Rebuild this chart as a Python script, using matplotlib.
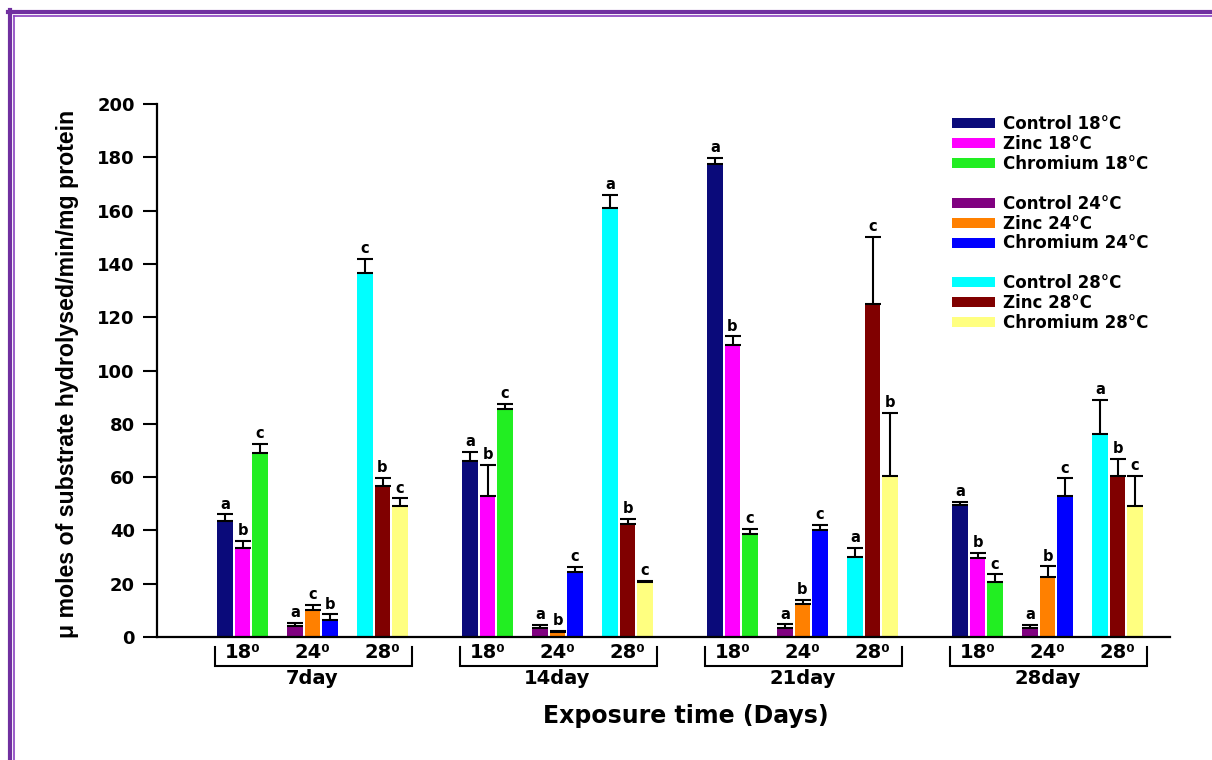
import matplotlib
matplotlib.use("Agg")
import matplotlib.pyplot as plt
import numpy as np
from matplotlib.patches import Patch
from matplotlib.lines import Line2D

# ---------------- data ----------------
days = ['7day', '14day', '21day', '28day']
temps = ['18\u2070', '24\u2070', '28\u2070']

series_labels = ['Control 18°C', 'Zinc 18°C', 'Chromium 18°C',
                 'Control 24°C', 'Zinc 24°C', 'Chromium 24°C',
                 'Control 28°C', 'Zinc 28°C', 'Chromium 28°C']
series_colors = ['#0a0a7a', '#ff00ff', '#22ee22',
                 '#800080', '#ff8000', '#0000ff',
                 '#00ffff', '#800000', '#ffff80']

control18 = [43.5, 66.0, 177.5, 49.5]
zinc18 = [33.5, 53.0, 109.5, 29.5]
chrom18 = [69.0, 85.5, 38.5, 20.5]
control24 = [4.0, 3.5, 3.5, 3.5]
zinc24 = [10.0, 1.8, 12.5, 22.5]
chrom24 = [6.5, 24.5, 40.0, 53.0]
control28 = [136.5, 161.0, 30.0, 76.0]
zinc28 = [56.5, 42.5, 125.0, 60.5]
chrom28 = [49.0, 20.5, 60.5, 49.0]

control18_err = [2.5, 3.5, 2.2, 1.2]
zinc18_err = [2.6, 11.5, 3.3, 2.0]
chrom18_err = [3.5, 2.0, 2.0, 3.0]
control24_err = [1.2, 1.0, 1.2, 1.0]
zinc24_err = [2.0, 0.5, 1.5, 4.0]
chrom24_err = [2.0, 1.8, 2.0, 6.5]
control28_err = [5.5, 5.0, 3.5, 13.0]
zinc28_err = [3.3, 1.9, 25.0, 6.3]
chrom28_err = [3.0, 0.7, 23.5, 11.5]

control18_sig = ['a', 'a', 'a', 'a']
zinc18_sig = ['b', 'b', 'b', 'b']
chrom18_sig = ['c', 'c', 'c', 'c']
control24_sig = ['a', 'a', 'a', 'a']
zinc24_sig = ['c', 'b', 'b', 'b']
chrom24_sig = ['b', 'c', 'c', 'c']
control28_sig = ['c', 'a', 'a', 'a']
zinc28_sig = ['b', 'b', 'c', 'b']
chrom28_sig = ['c', 'c', 'b', 'c']

values = [control18, zinc18, chrom18, control24, zinc24, chrom24,
          control28, zinc28, chrom28]
errors = [control18_err, zinc18_err, chrom18_err, control24_err, zinc24_err,
          chrom24_err, control28_err, zinc28_err, chrom28_err]
sigs = [control18_sig, zinc18_sig, chrom18_sig, control24_sig, zinc24_sig,
        chrom24_sig, control28_sig, zinc28_sig, chrom28_sig]

yticks = [0, 20, 40, 60, 80, 100, 120, 140, 160, 180, 200]

# ---------------- layout ----------------
W, H = 1212, 760
fig = plt.figure(figsize=(W / 100, H / 100), dpi=100)
FONT = 'DejaVu Sans'

ax_left, ax_right, ax_bot, ax_top = 157, 1170, 637, 104
ax = fig.add_axes([ax_left / W, 1 - ax_bot / H, (ax_right - ax_left) / W,
                   (ax_bot - ax_top) / H])

DAY, SUB, BW = 14, 4, 0.9
day_idx = np.arange(len(days))

for s in range(9):
    t, b = divmod(s, 3)
    x = day_idx * DAY + t * SUB + b
    ax.bar(x, values[s], width=BW, color=series_colors[s], zorder=2,
           label=series_labels[s])
    ax.errorbar(x, values[s], yerr=[np.zeros(len(days)), errors[s]],
                fmt='none', ecolor='black', elinewidth=1.5, capsize=5.5,
                capthick=1.5, zorder=3)
    for i in range(len(days)):
        ax.annotate(sigs[s][i], (x[i], values[s][i] + errors[s][i]),
                    xytext=(0, 2), textcoords='offset points', ha='center',
                    va='bottom', fontsize=10.5, fontweight='bold',
                    family=FONT, zorder=4)

ax.set_xlim((ax_left - 225) / 17.5, (ax_right - 225) / 17.5)
ax.set_ylim(0, 200)
ax.set_yticks(yticks)
ax.set_yticklabels([str(v) for v in yticks], fontsize=13,
                   fontweight='bold', family=FONT)
ax.set_xticks([])
ax.tick_params(axis='y', length=10, width=1.5, pad=6, direction='out')
for sp in ['top', 'right']:
    ax.spines[sp].set_visible(False)
for sp in ['left', 'bottom']:
    ax.spines[sp].set_linewidth(1.6)

PX = 200 / (ax_bot - ax_top)  # data units per pixel vertically


def ypx(py):
    return (ax_bot - py) * PX


# temperature labels, brackets, day labels
for d in range(len(days)):
    for t in range(3):
        ax.text(d * DAY + t * SUB + 1, ypx(653), temps[t], ha='center',
                va='center', fontsize=14, fontweight='bold', family=FONT,
                clip_on=False)
    xl = d * DAY - 0.55
    xr = d * DAY + 2 * SUB + 2 + 0.7
    ax.plot([xl, xl, xr, xr], [ypx(647), ypx(666), ypx(666), ypx(647)],
            color='black', lw=1.5, clip_on=False, solid_joinstyle='miter')
    ax.text(d * DAY + SUB + 1, ypx(678), days[d], ha='center', va='center',
            fontsize=14, fontweight='bold', family=FONT, clip_on=False)

fig.text(686 / W, 1 - 716 / H, 'Exposure time (Days)', ha='center',
         va='center', fontsize=17, fontweight='bold', family=FONT)
fig.text(68 / W, 1 - 374 / H,
         '\u03bc moles of substrate hydrolysed/min/mg protein',
         rotation=90, ha='center', va='center', fontsize=16.7,
         fontweight='bold', family=['Liberation Sans Narrow', 'Liberation Sans'])

# legend with blank rows between groups
handles, labels = ax.get_legend_handles_labels()
blank = Patch(facecolor='none', edgecolor='none')
h2, l2 = [], []
for g in range(3):
    h2 += handles[g * 3:g * 3 + 3]
    l2 += labels[g * 3:g * 3 + 3]
    if g < 2:
        h2.append(blank)
        l2.append('')
leg = ax.legend(h2, l2, loc='upper left',
                bbox_to_anchor=(952 / W, 1 - 115 / H),
                bbox_transform=fig.transFigure, frameon=False,
                prop={'family': FONT, 'weight': 'bold', 'size': 12},
                handlelength=2.55, handleheight=0.55, handletextpad=0.5,
                labelspacing=0.115, borderpad=0, borderaxespad=0)

# purple page border (top and left)
pc = '#7030a0'
fig.add_artist(Line2D([8 / W, 1], [1 - 12 / H, 1 - 12 / H], color=pc, lw=3,
                      transform=fig.transFigure))
fig.add_artist(Line2D([14 / W, 1], [1 - 16 / H, 1 - 16 / H], color='#8a40c0',
                      lw=1.2, transform=fig.transFigure))
fig.add_artist(Line2D([10 / W, 10 / W], [0, 1 - 10 / H], color=pc, lw=3,
                      transform=fig.transFigure))
fig.add_artist(Line2D([14 / W, 14 / W], [0, 1 - 16 / H], color='#8a40c0',
                      lw=1.2, transform=fig.transFigure))

fig.savefig('out.png', dpi=100)
